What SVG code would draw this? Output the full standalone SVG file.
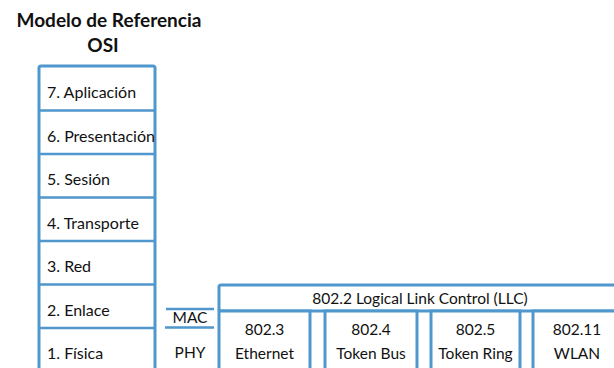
<svg xmlns="http://www.w3.org/2000/svg" width="614" height="368" viewBox="0 0 614 368">
<style>
.b{fill:#fff;stroke:#4f97cc;stroke-width:3}
.l{fill:none;stroke:#4f97cc;stroke-width:2.5}
text{font-family:Lato,"Open Sans",sans-serif;fill:#111;font-size:15.5px}
.r{font-size:16px}
.t{font-weight:bold;font-size:19px;text-anchor:middle}
.c{text-anchor:middle}
</style>
<rect width="614" height="368" fill="#fff"/>
<g id="title">
<text class="t" x="109" y="27">Modelo de Referencia</text>
<text class="t" x="103" y="52">OSI</text>
</g>
<g id="osi">
<rect class="b" x="39" y="66" width="116" height="320" rx="2"/>
<g id="l7"><text class="r" x="47" y="98">7. Aplicación</text></g>
<g id="l6"><text class="r" x="47" y="142">6. Presentación</text></g>
<g id="l5"><text class="r" x="47" y="185">5. Sesión</text></g>
<g id="l4"><text class="r" x="47" y="229">4. Transporte</text></g>
<g id="l3"><text class="r" x="47" y="272">3. Red</text></g>
<g id="l2"><text class="r" x="47" y="316">2. Enlace</text></g>
<g id="l1"><text class="r" x="47" y="359">1. Física</text></g>
<path class="l" d="M39 110.5H155M39 154H155M39 197.5H155M39 241H155M39 284.5H155M39 328H155"/>
</g>
<g id="macphy">
<path class="l" d="M166 309H214M165 327.5H214"/>
<text class="c" x="190" y="323">MAC</text>
<text class="c" x="190" y="358">PHY</text>
</g>
<g id="llc">
<rect class="b" x="219" y="285" width="420" height="26" rx="2"/>
<text class="c" x="420" y="304">802.2 Logical Link Control (LLC)</text>
</g>
<g id="e8023">
<rect class="b" x="219" y="311" width="91" height="80"/>
<text class="c" x="264.5" y="335">802.3</text>
<text class="c" x="264.5" y="359">Ethernet</text>
</g>
<g id="e8024">
<rect class="b" x="325" y="311" width="92" height="80"/>
<text class="c" x="371" y="335">802.4</text>
<text class="c" x="371" y="359">Token Bus</text>
</g>
<g id="e8025">
<rect class="b" x="431" y="311" width="89" height="80"/>
<text class="c" x="475.5" y="335">802.5</text>
<text class="c" x="475.5" y="359">Token Ring</text>
</g>
<g id="e80211">
<rect class="b" x="533" y="311" width="100" height="80"/>
<text class="c" x="577" y="335">802.11</text>
<text class="c" x="577" y="359">WLAN</text>
</g>
<g id="connectors"/>
</svg>
